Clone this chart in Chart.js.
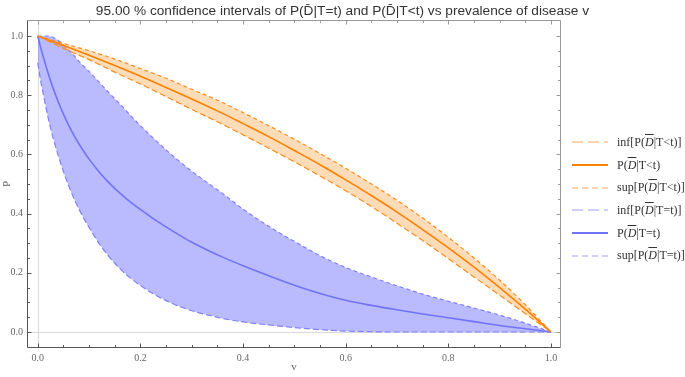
<!DOCTYPE html>
<html><head><meta charset="utf-8">
<script src="https://cdn.jsdelivr.net/npm/chart.js@4.4.0/dist/chart.umd.min.js"></script>
<style>
html,body{margin:0;padding:0;background:#fff;}
#wrap{position:relative;width:685px;height:377px;overflow:hidden}
canvas{display:block}
#legend{position:absolute;left:572px;top:131px;font-family:'Liberation Serif',serif;font-size:12px;color:#333;}
.item{height:22.7px;display:flex;align-items:center;white-space:nowrap}
.item svg{margin-right:9px;flex:none}
.ob{font-style:italic;text-decoration:overline;}
</style></head><body>
<div id="wrap"><canvas id="c" width="685" height="377"></canvas><div id="legend"></div></div>
<script>
// ---- data ----
const titleText = '95.00 % confidence intervals of P(D\u0304|T=t) and P(D\u0304|T<t) vs prevalence of disease v';
const xAxisTitle = 'v';
const yAxisTitle = 'P';
const xTickLabels = [0, 0.2, 0.4, 0.6, 0.8, 1.0];
const yTickLabels = [0, 0.2, 0.4, 0.6, 0.8, 1.0];
const xMinorTicks = [0.05,0.1,0.15,0.25,0.3,0.35,0.45,0.5,0.55,0.65,0.7,0.75,0.85,0.9,0.95];
const yMinorTicks = [0.05,0.1,0.15,0.25,0.3,0.35,0.45,0.5,0.55,0.65,0.7,0.75,0.85,0.9,0.95];

const seriesLabels = [
  'inf[P(D\u0304|T<t)]', 'P(D\u0304|T<t)', 'sup[P(D\u0304|T<t)]',
  'inf[P(D\u0304|T=t)]', 'P(D\u0304|T=t)', 'sup[P(D\u0304|T=t)]'
];

// P(D̄|T<t) and its interval
const vOrange = [0,0.05,0.1,0.15,0.2,0.25,0.3,0.35,0.4,0.45,0.5,0.55,0.6,0.65,0.7,0.75,0.8,0.85,0.9,0.95,1.0];
const orangeInf = [1,0.958,0.92,0.878,0.838,0.795,0.752,0.71,0.666,0.621,0.575,0.527,0.477,0.424,0.367,0.309,0.248,0.186,0.124,0.062,0];
const orangeMid = [1,0.968,0.935,0.900,0.864,0.826,0.787,0.747,0.704,0.660,0.613,0.565,0.514,0.461,0.405,0.346,0.284,0.219,0.150,0.077,0];
const orangeSup = [1,0.975,0.95,0.922,0.89,0.857,0.82,0.783,0.741,0.697,0.651,0.603,0.553,0.5,0.445,0.385,0.32,0.25,0.175,0.092,0];

// P(D̄|T=t) and its interval
const vBlue = [0,0.005,0.01,0.02,0.03,0.04,0.05,0.06,0.07,0.08,0.09,0.1,0.12,0.14,0.16,0.18,0.2,0.225,0.25,0.275,0.3,0.33,0.36,0.4,0.45,0.5,0.55,0.6,0.65,0.7,0.75,0.8,0.85,0.9,0.95,1.0];
const blueInf = [0.91,0.855,0.81,0.725,0.655,0.595,0.542,0.495,0.453,0.416,0.383,0.353,0.298,0.252,0.214,0.183,0.157,0.129,0.106,0.087,0.072,0.058,0.046,0.034,0.024,0.015,0.008,0.003,0.001,0,0,0,0,0,0,0];
const blueMid = [1,0.965,0.934,0.875,0.823,0.777,0.736,0.699,0.666,0.636,0.609,0.584,0.54,0.502,0.469,0.44,0.414,0.383,0.355,0.328,0.303,0.277,0.253,0.224,0.19,0.158,0.13,0.107,0.09,0.075,0.061,0.048,0.035,0.022,0.011,0];
const blueSup = [1,1,1,1,0.995,0.985,0.97,0.952,0.935,0.915,0.897,0.88,0.843,0.806,0.77,0.733,0.697,0.655,0.615,0.578,0.543,0.505,0.468,0.415,0.357,0.306,0.258,0.218,0.186,0.156,0.128,0.104,0.081,0.057,0.03,0];

// ---- styling ----
const ORANGE = '#ff8000', ORANGE_D = '#ff8c1a', ORANGE_FILL = 'rgba(255,128,0,0.28)';
const BLUE = '#7373f5', BLUE_D = '#8080ff', BLUE_FILL = 'rgba(118,118,255,0.5)';
const pts = (xs, ys) => xs.map((v, i) => ({x: v, y: ys[i]}));

const styles = [
  {color: ORANGE_D, dash: [6,3], width: 1.2},
  {color: ORANGE, dash: [], width: 1.6},
  {color: ORANGE_D, dash: [4,3], width: 1.2},
  {color: BLUE_D, dash: [6,3], width: 1.2},
  {color: BLUE, dash: [], width: 1.6},
  {color: BLUE_D, dash: [4,3], width: 1.2}
];
const xs = [vOrange, vOrange, vOrange, vBlue, vBlue, vBlue];
const ys = [orangeInf, orangeMid, orangeSup, blueInf, blueMid, blueSup];
const fills = [false, false, {target: 0, above: ORANGE_FILL, below: ORANGE_FILL}, false, false, {target: 3, above: BLUE_FILL, below: BLUE_FILL}];

const datasets = seriesLabels.map((lab, i) => ({
  label: lab,
  data: pts(xs[i], ys[i]),
  borderColor: styles[i].color,
  borderDash: styles[i].dash,
  borderWidth: styles[i].width,
  backgroundColor: i === 2 ? ORANGE_FILL : (i === 5 ? BLUE_FILL : 'transparent'),
  fill: fills[i],
  pointRadius: 0,
  cubicInterpolationMode: 'monotone'
}));

const serif = 'Liberation Serif';
const framePlugin = {
  id: 'frame',
  beforeDatasetsDraw(chart) {
    const {ctx, chartArea: a, scales: {x, y}} = chart;
    ctx.save();
    ctx.strokeStyle = '#d9d9d9'; ctx.lineWidth = 1;
    const px = Math.round(x.getPixelForValue(0)) + 0.5;
    const py = Math.round(y.getPixelForValue(0)) + 0.5;
    ctx.beginPath();
    ctx.moveTo(px, a.top); ctx.lineTo(px, a.bottom);
    ctx.moveTo(a.left, py); ctx.lineTo(a.right, py);
    ctx.stroke();
    ctx.restore();
  },
  afterDatasetsDraw(chart) {
    const {ctx, chartArea: a, scales: {x, y}} = chart;
    const L = Math.round(a.left) + 0.5, R = Math.round(a.right) - 0.5;
    const T = Math.round(a.top) + 0.5, B = Math.round(a.bottom) - 0.5;
    ctx.save();
    ctx.lineWidth = 1;
    ctx.strokeStyle = '#999';
    ctx.beginPath(); ctx.moveTo(L, T); ctx.lineTo(R, T); ctx.lineTo(R, B); ctx.stroke();
    ctx.strokeStyle = '#555';
    ctx.beginPath(); ctx.moveTo(L, T); ctx.lineTo(L, B); ctx.lineTo(R, B); ctx.stroke();
    const tick = (vals, len) => {
      vals.forEach(v => {
        const px = Math.round(x.getPixelForValue(v)) + 0.5;
        ctx.strokeStyle = '#555';
        ctx.beginPath(); ctx.moveTo(px, B); ctx.lineTo(px, B - len); ctx.stroke();
        ctx.strokeStyle = '#999';
        ctx.beginPath(); ctx.moveTo(px, T); ctx.lineTo(px, T + len); ctx.stroke();
      });
    };
    const ytick = (vals, len) => {
      vals.forEach(v => {
        const py = Math.round(y.getPixelForValue(v)) + 0.5;
        ctx.strokeStyle = '#555';
        ctx.beginPath(); ctx.moveTo(L, py); ctx.lineTo(L + len, py); ctx.stroke();
        ctx.strokeStyle = '#999';
        ctx.beginPath(); ctx.moveTo(R, py); ctx.lineTo(R - len, py); ctx.stroke();
      });
    };
    tick(xTickLabels, 4); tick(xMinorTicks, 2.5);
    ytick(yTickLabels, 4); ytick(yMinorTicks, 2.5);
    ctx.restore();
  }
};

new Chart(document.getElementById('c'), {
  type: 'line',
  data: {datasets},
  plugins: [framePlugin],
  options: {
    responsive: false,
    animation: false,
    devicePixelRatio: 1,
    layout: {padding: 0},
    plugins: {
      legend: {display: false},
      tooltip: {enabled: false},
      title: {display: true, text: titleText, color: '#333',
        font: {family: 'Liberation Sans', size: 13.7, weight: 'normal', lineHeight: 1.2},
        padding: {top: 3, bottom: 0.56}}
    },
    scales: {
      x: {
        type: 'linear', position: 'bottom', min: -0.021, max: 1.0195,
        afterFit(s) { s.height = 29; },
        afterBuildTicks(s) { s.ticks = xTickLabels.map(v => ({value: v})); },
        ticks: {font: {family: serif, size: 10}, color: '#666', padding: 4, maxRotation: 0, autoSkip: false,
          callback: v => Number(v).toFixed(1)},
        grid: {display: false, drawTicks: false},
        border: {display: false},
        title: {display: true, text: xAxisTitle, color: '#666', font: {family: serif, size: 11}, padding: {top: 0, bottom: 3.4}}
      },
      y: {
        type: 'linear', position: 'left', min: -0.054, max: 1.054,
        afterFit(s) { s.width = 27; },
        afterBuildTicks(s) { s.ticks = yTickLabels.map(v => ({value: v})); },
        ticks: {font: {family: serif, size: 10}, color: '#666', padding: 4, autoSkip: false,
          callback: v => Number(v).toFixed(1)},
        grid: {display: false, drawTicks: false},
        border: {display: false},
        title: {display: true, text: yAxisTitle, color: '#666', font: {family: serif, size: 11}, padding: {top: 0.4, bottom: 0}}
      },
      yr: {
        type: 'linear', position: 'right', min: 0, max: 1,
        afterFit(s) { s.width = 124; },
        ticks: {display: false},
        grid: {display: false, drawTicks: false},
        border: {display: false}
      }
    }
  }
});

// HTML legend built from the series labels
const legend = document.getElementById('legend');
const esc = s => s.replace(/&/g,'&amp;').replace(/</g,'&lt;').replace(/>/g,'&gt;');
seriesLabels.forEach((lab, i) => {
  const st = styles[i];
  const dash = st.dash.length ? `stroke-dasharray="${i % 3 === 0 ? '11,5' : '6,4'}"` : '';
  const op = st.dash.length ? 0.75 : 1;
  const html = esc(lab).replace('D\u0304', '<span class="ob">D</span>');
  const div = document.createElement('div');
  div.className = 'item';
  div.innerHTML = `<svg width="36" height="6"><line x1="0" y1="3" x2="36" y2="3" stroke="${st.color}" stroke-opacity="${op}" stroke-width="${st.dash.length ? 1.2 : 2}" ${dash}/></svg><span>${html}</span>`;
  legend.appendChild(div);
});
</script>
</body></html>
